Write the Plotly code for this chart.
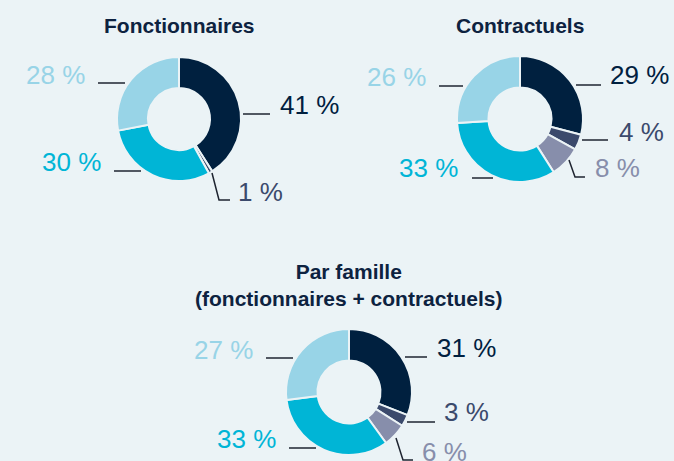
import plotly.graph_objects as go

# Répartition des effectifs par famille (en %)
familles = ["Famille 1", "Famille 2", "Famille 3", "Famille 4", "Famille 5"]
fonctionnaires = [41, 1, 0, 30, 28]
contractuels = [29, 4, 8, 33, 26]
ensemble = [31, 3, 6, 33, 27]

titres = ["Fonctionnaires", "Contractuels", "Par famille<br>(fonctionnaires + contractuels)"]

couleurs = ["#00203f", "#3b4a6c", "#878eab", "#00b5d6", "#98d4e7"]
fond = "#ebf3f6"
W, H = 674, 461


def px(x):
    return x / W


def py(y):
    return 1 - y / H


# Placement in pixels: donut centre/radius, title centre, and per-slice label layout
# label layout: (anchor_x, centre_y, xanchor, leader polyline points)
dispositions = [
    dict(c=(179, 119), r=62, titre=(179, 25),
         etiquettes={
             0: (278, 105, "left", [(243, 114), (270, 114)]),
             1: (236, 192, "left", [(212, 173), (219, 200), (230, 200)]),
             3: (103, 162, "right", [(114, 171), (141, 171)]),
             4: (87, 75, "right", [(98, 83), (125, 83)]),
         }),
    dict(c=(520, 119), r=63, titre=(520, 25),
         etiquettes={
             0: (608, 75, "left", [(576, 85), (601, 85)]),
             1: (617, 132, "left", [(582, 140), (608, 140)]),
             2: (593, 168, "left", [(569, 160), (575, 177), (585, 177)]),
             3: (460, 168, "right", [(472, 178), (493, 178)]),
             4: (428, 77, "right", [(439, 86), (463, 86)]),
         }),
    dict(c=(349, 392), r=63, titre=(349, 285),
         etiquettes={
             0: (435, 348, "left", [(405, 357), (427, 357)]),
             1: (442, 412, "left", [(407, 422), (435, 422)]),
             2: (420, 452, "left", [(396, 438), (403, 460), (413, 460)]),
             3: (278, 439, "right", [(289, 448), (316, 448)]),
             4: (255, 350, "right", [(266, 358), (293, 358)]),
         }),
]

series = [fonctionnaires, contractuels, ensemble]

fig = go.Figure()
annotations = []
shapes = []

for valeurs, titre, d in zip(series, titres, dispositions):
    cx, cy = d["c"]
    r = d["r"]
    fig.add_trace(go.Pie(
        labels=familles,
        values=valeurs,
        hole=0.5,
        sort=False,
        direction="clockwise",
        rotation=0,
        textinfo="none",
        hoverinfo="label+percent",
        marker=dict(colors=couleurs, line=dict(color=fond, width=2)),
        domain=dict(x=[px(cx - r), px(cx + r)], y=[py(cy + r), py(cy - r)]),
        showlegend=False,
    ))
    tx, ty = d["titre"]
    annotations.append(dict(
        x=px(tx), y=py(ty), xref="paper", yref="paper",
        xanchor="center", yanchor="middle", showarrow=False,
        text=f"<b>{titre}</b>",
        font=dict(family="Liberation Sans, Arial, sans-serif", size=21, color="#0d2240"),
    ))
    for i, (ax, ay, xa, pts) in d["etiquettes"].items():
        v = valeurs[i]
        if v <= 0:
            continue
        annotations.append(dict(
            x=px(ax), y=py(ay), xref="paper", yref="paper",
            xanchor=xa, yanchor="middle", showarrow=False,
            text=f"{v} %",
            font=dict(family="Liberation Sans, Arial, sans-serif", size=26, color=couleurs[i]),
        ))
        chemin = "M " + " L ".join(f"{px(x):.5f},{py(y):.5f}" for x, y in pts)
        shapes.append(dict(
            type="path", xref="paper", yref="paper", path=chemin,
            line=dict(color="#1e2430", width=1.5),
        ))

fig.update_layout(
    width=W, height=H,
    margin=dict(l=0, r=0, t=0, b=0),
    paper_bgcolor=fond,
    plot_bgcolor=fond,
    annotations=annotations,
    shapes=shapes,
)

fig.write_html("out.html")
